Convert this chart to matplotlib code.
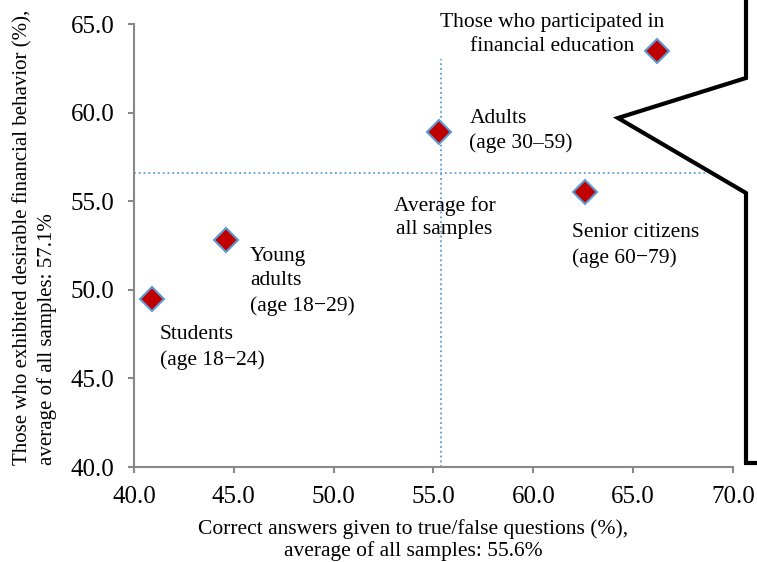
import matplotlib
matplotlib.use("Agg")
import matplotlib.pyplot as plt
from matplotlib.lines import Line2D
from matplotlib.ticker import FormatStrFormatter

plt.rcParams['font.family'] = ['Liberation Serif', 'DejaVu Serif']

# data
groups = ["Students", "Young adults", "Adults", "Senior citizens", "Financial education"]
correct_pct = [40.9, 44.6, 55.3, 62.6, 66.2]
behavior_pct = [49.5, 52.8, 58.9, 55.5, 63.5]
labels = [
    "Students\n(age 18\u221224)",
    "Young\nadults\n(age 18\u221229)",
    "Adults\n(age 30\u201359)",
    "Senior citizens\n(age 60\u221279)",
    "Those who participated in\nfinancial education",
]
# label offsets (pixels) from each marker, and alignment
offsets = [(8, -49), (24, -41), (30, 1), (-13, -53), (-105, 16)]
aligns = ["left", "left", "left", "left", "center"]

avg_x_line = 55.4   # where the average lines are drawn
avg_y_line = 56.6
x_ticks = [40, 45, 50, 55, 60, 65, 70]
y_ticks = [40, 45, 50, 55, 60, 65]

fig = plt.figure(figsize=(7.57, 5.62), dpi=100)
ax = fig.add_axes([134 / 757, 1 - 467 / 562, 599 / 757, 443 / 562])

blue = "#5B9BD5"
ax.plot([avg_x_line, avg_x_line], [40, 63.0], ls=":", color=blue, lw=1.3)
ax.plot([40, 68.7], [avg_y_line, avg_y_line], ls=":", color=blue, lw=1.3)

ax.plot(correct_pct, behavior_pct, ls="none", marker="D", ms=12.5,
        mfc="#C00000", mec=blue, mew=1.5, zorder=3)

for x, y, txt, off, ha in zip(correct_pct, behavior_pct, labels, offsets, aligns):
    ax.annotate(txt, (x, y), xytext=off, textcoords="offset pixels",
                ha=ha, va="center", multialignment=ha, fontsize=15.5,
                linespacing=1.38)

ax.annotate("Average for\nall samples", (avg_x_line, avg_y_line), xytext=(3, -45),
            textcoords="offset pixels", ha="center", va="center",
            multialignment="center", fontsize=15.5, linespacing=1.3)

ax.set_xlim(40, 70)
ax.set_ylim(40, 65)
ax.set_xticks(x_ticks)
ax.set_yticks(y_ticks)
ax.xaxis.set_major_formatter(FormatStrFormatter("%.1f"))
ax.yaxis.set_major_formatter(FormatStrFormatter("%.1f"))
ax.tick_params(labelsize=18, color="#888888", width=1.5, length=4.5, pad=9.5)

for s in ["top", "right"]:
    ax.spines[s].set_visible(False)
for s in ["left", "bottom"]:
    ax.spines[s].set_color("#888888")
    ax.spines[s].set_linewidth(1.5)

# axis titles placed by hand like the original
fig.text(413 / 757, 1 - 540 / 562,
         "Correct answers given to true/false questions (%),\naverage of all samples: 55.6%",
         ha="center", va="center", multialignment="center", fontsize=15.5, linespacing=1.2)
fig.text(35 / 757, 1 - 465 / 562,
         "Those who exhibited desirable financial behavior (%),\naverage of all samples: 57.1%",
         rotation=90, ha="center", va="bottom", multialignment="left",
         fontsize=15, linespacing=1.25)

# callout shape at the right edge (figure pixels)
cx = [746, 746, 618, 746, 746, 757]
cy = [0, 78, 118, 193, 463, 463]
fig.add_artist(Line2D([p / 757 for p in cx], [1 - p / 562 for p in cy],
                      transform=fig.transFigure, color="black", lw=3,
                      solid_joinstyle="miter"))

fig.savefig("out.png", dpi=100)
